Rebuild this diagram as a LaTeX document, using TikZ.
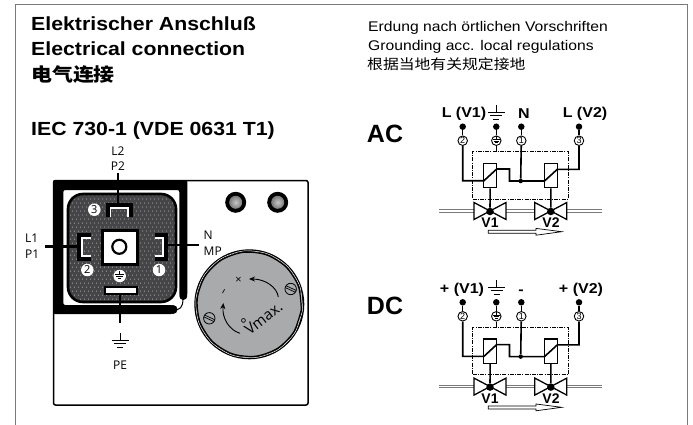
\documentclass[tikz,border=0pt]{standalone}
\usepackage{fontspec}
\setmainfont{Liberation Sans}
\newfontfamily\cjkw{Noto Sans CJK SC}[FakeStretch=1.13]
\newfontfamily\wide{Liberation Sans}[FakeStretch=1.12]
\newfontfamily\opensans{Open Sans}
\usetikzlibrary{arrows.meta}
\definecolor{pinkdark}{HTML}{454547}
\definecolor{knobgray}{HTML}{A8AAAC}
\definecolor{framegray}{HTML}{7A7A7A}
\newcommand{\fs}[1]{\fontsize{#1}{#1}\selectfont}
\newcommand{\polyg}[5]{\draw[#5] plot[samples=#3+1,domain=0:360,smooth=false] ({#1+#2*cos(\x+#4)},{304.3+#2*sin(\x+#4)}) -- cycle;}
\tikzset{
  x=1pt,y=-1pt,
  title/.style={anchor=base west,font=\wide\bfseries\fs{19},inner sep=0pt},
  note/.style={anchor=base west,font=\wide\fs{14},inner sep=0pt},
  lbl/.style={font=\opensans\fs{12},inner sep=0pt},
  hdr/.style={font=\wide\bfseries\fs{14.3},inner sep=0pt},
  numc/.style={circle,draw=black,fill=white,line width=.9pt,minimum size=9.5pt,inner sep=0pt,font=\fs{9}},
  pinnum/.style={circle,fill=white,minimum size=12.5pt,inner sep=0pt,font=\opensans\fs{11}},
  wire/.style={line width=1.6pt,line join=miter},
  stem/.style={line width=2.5pt},
  coil/.style={draw=black,line width=1.5pt,fill=white},
  valve/.style={draw=black,line width=1.3pt,fill=white},
  dot/.style={circle,fill=black,inner sep=0pt,minimum size=#1},
  dot/.default=6.5pt,
  earth/.style={line width=.7pt},
}
\newcommand{\earthsym}[4]{%
  \draw[earth,#4] (#1,#2) -- (#1,#2+7*#3)
   (#1-8.5*#3,#2+7*#3) -- (#1+8.5*#3,#2+7*#3)
   (#1-6*#3,#2+10.5*#3) -- (#1+6*#3,#2+10.5*#3)
   (#1-3*#3,#2+14*#3) -- (#1+3*#3,#2+14*#3);}
\newcommand{\schem}[1]{%
\begin{scope}[yshift=#1]
  \draw[line width=3.6pt,framegray] (438.5,211) -- (602,211);
  \draw[line width=1.5pt,white] (438.5,211) -- (602,211);
  \node[draw=black,dash pattern=on 4pt off 1.2pt on 1pt off 1.2pt,line width=.7pt,minimum width=95.6pt,minimum height=47.3pt,inner sep=0pt] (box) at (520.5,175.3) {};
  \node[dot] (t2) at (462.7,126.7) {};
  \node[dot] (te) at (496.3,126.7) {};
  \node[dot] (t1) at (521.3,126.7) {};
  \node[dot] (t3) at (579,126.7) {};
  \node[numc] (c2) at (462.7,140.7) {2};
  \node[numc] (ce) at (496.3,140.7) {};
  \earthsym{496.3}{136.5}{.42}{line width=.5pt}
  \node[numc] (c1) at (521.3,140.7) {1};
  \node[numc] (c3) at (579,140.7) {3};
  \foreach \a/\b in {t2/c2,te/ce,t1/c1,t3/c3} \draw[line width=1.4pt] (\a) -- (\b);
  \node[coil,minimum width=13pt,minimum height=24.4pt,inner sep=0pt] (k1) at (490.2,175.5) {};
  \node[coil,minimum width=13pt,minimum height=24.4pt,inner sep=0pt] (k2) at (550.8,175.5) {};
  \draw[valve] (474,202.5) -- (506,219.5) -- (506,202.5) -- (474,219.5) -- cycle;
  \draw[valve] (534.8,202.5) -- (566.8,219.5) -- (566.8,202.5) -- (534.8,219.5) -- cycle;
  \node[dot=7.5pt] (v1) at (490,211.5) {};
  \node[dot=7.5pt] (v2) at (550.8,211.5) {};
  \draw[wire] (k1) -- (v1) (k2) -- (v2);
  \draw[wire] (c2) -- (462.7,180.7) -- (484,180.7) -- (496.7,169);
  \draw[wire] (496.7,169) -- (509.5,169) -- (509.5,181) -- (544.5,181) -- (557.3,169.3) -- (579,169.3) -- (c3);
  \node[dot=4.5pt] (j) at (520.7,181) {};
  \draw[wire] (j) -- (c1);
  \draw[line width=1pt] (ce) -- (496.3,151.7);
  \node[font=\bfseries\fs{14},inner sep=0pt] at (490,222.8) {V1};
  \node[font=\bfseries\fs{14},inner sep=0pt] at (551,222.8) {V2};
  \draw[line width=.7pt,fill=white] (488.3,230.3) -- (536,230.3) -- (536,228.4) -- (561.7,231.7) -- (536,235.2) -- (536,233.3) -- (488.3,233.3) -- cycle;
\end{scope}}
\begin{document}
\begin{tikzpicture}
\useasboundingbox (0,0) rectangle (693,425);
\fill[white] (0,0) rectangle (693,425);
\draw[framegray,line width=1pt] (15,425) -- (15,5) -- (687,5) -- (687,425);
\node[title] (t1) at (31,30.7) {Elektrischer Anschluß};
\node[title] (t2) at (31,56) {Electrical connection};
\node[title,font=\cjkw\bfseries\fs{18.5}] (t3) at (31,82) {电气连接};
\node[title] (t4) at (31,135.5) {IEC 730-1 (VDE 0631 T1)};
\node[note] (n1) at (368,32) {Erdung nach örtlichen Vorschriften};
\node[note] (n2) at (368,50.5) {Grounding acc. local regulations};
\node[note,font=\cjkw\fs{14}] (n3) at (367,69.5) {根据当地有关规定接地};
\node[font=\bfseries\fs{25},inner sep=0pt] (ac) at (385,133.5) {AC};
\node[font=\bfseries\fs{25},inner sep=0pt] (dc) at (385,306) {DC};
\draw[line width=1.5pt,rounded corners=2pt] (53.5,180.5) rectangle (308,405);
\fill[black,rounded corners=2pt] (53,180) -- (187.3,180) -- (187.3,296) -- (179.3,296) -- (179.3,190) -- (63.3,190) -- (63.3,305) -- (173,305) -- (173,314) -- (53,314) -- cycle;
\fill (173,309.5) circle (4.5pt);
\fill (183.3,296) circle (4pt);
\draw[line width=1pt] (183,298) .. controls (183,308) and (180,310) .. (173,310);
\begin{scope}
\clip[rounded corners=15pt] (68,194) rectangle (176,302);
\fill[pinkdark] (68,194) rectangle (176,302);
\foreach \i in {0,...,26} \foreach \j in {0,...,26} {
  \fill[white!70!pinkdark] ({68.5+\i*4+mod(\j,2)*2},{195+\j*4}) circle (.5pt);
}
\end{scope}
\draw[line width=2.6pt,rounded corners=15pt] (68,194) rectangle (176,302);
\node[draw=black,fill=white,line width=3pt,minimum width=35pt,minimum height=34pt,inner sep=0pt] (sq) at (119.5,247) {};
\node[circle,draw=black,fill=white,line width=2.2pt,minimum size=14pt,inner sep=0pt] (hole) at (119.3,246.8) {};
\draw[line width=5.5pt,line join=miter] (108.3,217) -- (108.3,206) -- (130.3,206) -- (130.3,217);
\draw[line width=1.7pt,white] (110.5,217) -- (110.5,208.2) -- (128.1,208.2) -- (128.1,217);
\draw[line width=6.5pt,line join=miter] (91,236) -- (80,236) -- (80,258) -- (91,258);
\draw[line width=2.2pt,white] (91,238.3) -- (82.3,238.3) -- (82.3,255.7) -- (91,255.7);
\draw[line width=6.5pt,line join=miter] (155,236) -- (165,236) -- (165,258) -- (155,258);
\draw[line width=2.2pt,white] (155,238.3) -- (162.7,238.3) -- (162.7,255.7) -- (155,255.7);
\node[draw=black,fill=white,line width=2pt,minimum width=32pt,minimum height=6.5pt,inner sep=0pt] (pe) at (120.5,290.3) {};
\node[pinnum] at (94.3,209.7) {3};
\node[pinnum] at (87.3,270) {2};
\node[pinnum] at (159,270) {1};
\node[pinnum] (earthc) at (119.7,276) {};
\earthsym{119.7}{270.5}{.55}{line width=.7pt}
\coordinate (s1) at (118,173); \coordinate (s2) at (118,204);
\coordinate (s3) at (45,246.7); \coordinate (s4) at (77,246.7);
\coordinate (s5) at (168,245); \coordinate (s6) at (199,245);
\coordinate (s7) at (120,294); \coordinate (s8) at (120,323);
\draw[stem] (s1) -- (s2) (s3) -- (s4) (s5) -- (s6) (s7) -- (s8);
\earthsym{120}{333}{1}{line width=.8pt}
\node[lbl] at (118,150.7) {L2};
\node[lbl] at (118,166.5) {P2};
\node[lbl,anchor=west] at (25,238) {L1};
\node[lbl,anchor=west] at (25,254) {P1};
\node[lbl,anchor=west] at (203.5,235) {N};
\node[lbl,anchor=west] at (203.5,251.5) {MP};
\node[lbl] at (120,365) {PE};
\foreach \cx in {235.7,277.7} {
  \fill (\cx,202.3) circle (10.5pt);
  \shade[inner color=gray!45,outer color=gray!95!black] (\cx,202.3) circle (6.5pt);
}
\fill (249.3,304.3) circle (55pt);
\polyg{249.3}{53.6}{14}{6}{draw=white,line width=.5pt}
\polyg{249.3}{52.3}{14}{19}{draw=white,fill=knobgray,line width=.5pt}
\polyg{249.3}{52.3}{14}{6}{draw=black,line width=1.2pt,fill=knobgray}
\foreach \sx/\sy in {290.7/289,209.3/318.3} {
  \begin{scope}[shift={(\sx,\sy)},rotate=-25]
    \draw[line width=.8pt,fill=knobgray] (0,0) circle (5.7pt);
    \draw[line width=.7pt] (-5.5,-1) -- (5.5,-1) (-5.5,1) -- (5.5,1);
  \end{scope}
}
\coordinate (a1) at (278.3,297); \coordinate (a2) at (249,279);
\coordinate (a3) at (240,333.3); \coordinate (a4) at (223.3,303);
\draw[line width=.9pt,-{Stealth[length=6pt,width=5pt]}] (a1) .. controls (277,287) and (265,279) .. (a2);
\draw[line width=.9pt,-{Stealth[length=6pt,width=5pt]}] (a3) .. controls (229,330) and (222,318) .. (a4);
\node[lbl,font=\opensans\fs{11}] at (238.5,280.5) {×};
\node[lbl,rotate=60,font=\opensans\fs{11}] at (224.7,292.7) {–};
\node[lbl,rotate=38,font=\opensans\fs{15}] at (263.5,318.5) {Vmax.};
\node[lbl,font=\opensans\fs{15}] at (243.5,324) {°};
\schem{0pt}
\schem{-175.6pt}
\node[hdr] at (464,114) {L (V1)};
\earthsym{496.3}{105}{1}{}
\node[hdr] at (524,114) {N};
\node[hdr] at (585,114) {L (V2)};
\node[hdr] at (462,290) {+ (V1)};
\earthsym{496.7}{280}{1}{}
\node[hdr] at (521,292) {-};
\node[hdr] at (581,290) {+ (V2)};
\end{tikzpicture}
\end{document}
